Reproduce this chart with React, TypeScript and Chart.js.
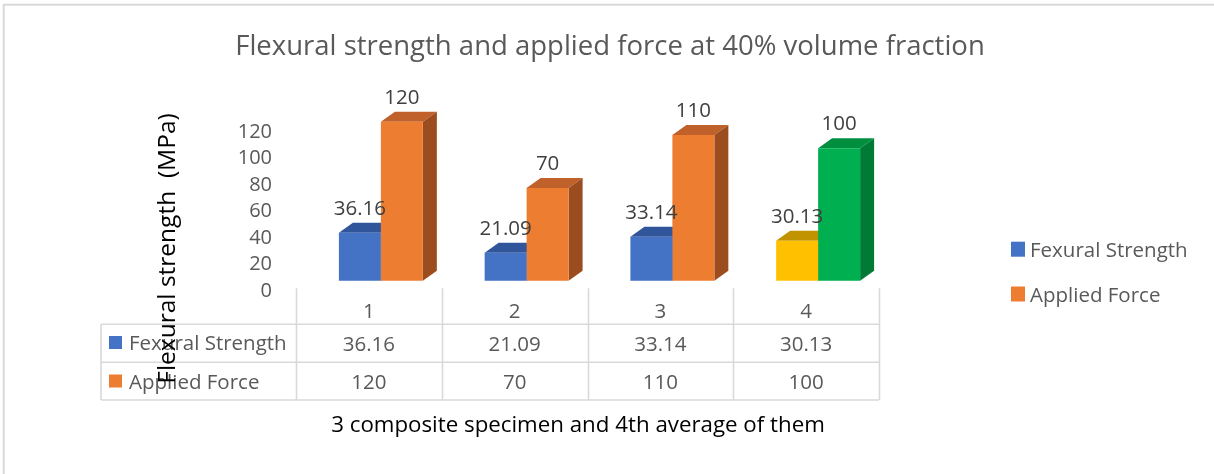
import React, { useEffect, useRef } from "react";
import { Chart, registerables } from "chart.js";

Chart.register(...registerables);

// ---------- data ----------
const categories = ["1", "2", "3", "4"];
const seriesNames = ["Fexural Strength", "Applied Force"];
const flexuralStrength = [36.16, 21.09, 33.14, 30.13];
const appliedForce = [120, 70, 110, 100];
const yMin = 0;
const yMax = 120;
const yStep = 20;

const chartTitle = "Flexural strength and applied force at 40% volume fraction";
const yAxisTitle = "Flexural strength  (MPa)";
const xAxisTitle = "3 composite specimen and 4th average of them";

// ---------- styles ----------
const FAMILY = '"Open Sans", sans-serif';
const font = (s: number) => `${s}px ${FAMILY}`;

const frontColors = [
  ["#4472C4", "#4472C4", "#4472C4", "#FFC000"],
  ["#ED7D31", "#ED7D31", "#ED7D31", "#00B050"],
];
const topColors = [
  ["#30559A", "#30559A", "#30559A", "#C29300"],
  ["#C0602A", "#C0602A", "#C0602A", "#008F3F"],
];
const sideColors = [
  ["#2A4B88", "#2A4B88", "#2A4B88", "#A77E00"],
  ["#9C4D1F", "#9C4D1F", "#9C4D1F", "#007A35"],
];
const legendColors = ["#4472C4", "#ED7D31"];

const DX = 14; // 3D depth x
const DY = 10; // 3D depth y
const SHIFT = 12; // bars are drawn slightly right of the category centre
const GRID = "#D9D9D9";

const excelPlugin = {
  id: "excel3d",
  beforeDraw(chart: any) {
    const ctx = chart.ctx as CanvasRenderingContext2D;
    ctx.save();
    ctx.fillStyle = "#FFFFFF";
    ctx.fillRect(0, 0, chart.width, chart.height);
    ctx.strokeStyle = GRID;
    ctx.lineWidth = 2;
    ctx.strokeRect(3.7, 4.7, chart.width + 20, chart.height + 20);
    // title
    ctx.fillStyle = "#595959";
    ctx.font = font(27.5);
    ctx.textAlign = "center";
    ctx.textBaseline = "alphabetic";
    ctx.fillText(chartTitle, 610, 55);
    ctx.restore();
  },
  beforeDatasetsDraw(chart: any) {
    const ctx = chart.ctx as CanvasRenderingContext2D;
    ctx.save();
    ctx.translate(SHIFT, 0);
    chart.data.datasets.forEach((_ds: any, di: number) => {
      const meta = chart.getDatasetMeta(di);
      meta.data.forEach((bar: any, i: number) => {
        const { x, y, base, width } = bar.getProps(["x", "y", "base", "width"], true);
        const l = x - width / 2;
        const r = x + width / 2;
        ctx.fillStyle = topColors[di][i];
        ctx.beginPath();
        ctx.moveTo(l, y);
        ctx.lineTo(l + DX, y - DY);
        ctx.lineTo(r + DX, y - DY);
        ctx.lineTo(r, y);
        ctx.closePath();
        ctx.fill();
        ctx.fillStyle = sideColors[di][i];
        ctx.beginPath();
        ctx.moveTo(r, y);
        ctx.lineTo(r + DX, y - DY);
        ctx.lineTo(r + DX, base - DY);
        ctx.lineTo(r, base);
        ctx.closePath();
        ctx.fill();
      });
    });
  },
  afterDatasetsDraw(chart: any) {
    const ctx = chart.ctx as CanvasRenderingContext2D;
    ctx.restore();
    ctx.save();
    const area = chart.chartArea;
    const xs = chart.scales.x;

    // data labels
    ctx.font = font(20.5);
    ctx.fillStyle = "#404040";
    ctx.textAlign = "center";
    ctx.textBaseline = "alphabetic";
    chart.data.datasets.forEach((ds: any, di: number) => {
      const meta = chart.getDatasetMeta(di);
      meta.data.forEach((bar: any, i: number) => {
        const { x, y } = bar.getProps(["x", "y"], true);
        ctx.fillText(String(ds.data[i]), x + SHIFT, y - 18);
      });
    });

    // data table
    const n = categories.length;
    const cw = (area.right - area.left) / n;
    const tableLeft = 101;
    const rowTop = area.bottom + 7.5;
    const r1 = 324.3;
    const r2 = 362.3;
    const r3 = 400;
    ctx.strokeStyle = GRID;
    ctx.lineWidth = 1.6;
    ctx.beginPath();
    for (let i = 0; i <= n; i++) {
      const lx = Math.round(area.left + i * cw) + 0.5;
      ctx.moveTo(lx, rowTop);
      ctx.lineTo(lx, r3);
    }
    ctx.moveTo(tableLeft, r1);
    ctx.lineTo(tableLeft, r3);
    [r1, r2, r3].forEach((ry) => {
      ctx.moveTo(tableLeft, ry);
      ctx.lineTo(area.right, ry);
    });
    ctx.stroke();

    ctx.fillStyle = "#595959";
    ctx.font = font(20.5);
    ctx.textAlign = "center";
    categories.forEach((c, i) => {
      const cx = xs.getPixelForValue(i);
      ctx.fillText(c, cx, 318);
      ctx.fillText(String(flexuralStrength[i]), cx, 351);
      ctx.fillText(String(appliedForce[i]), cx, 388.5);
    });
    // table row keys
    ctx.textAlign = "left";
    const rowBase = [350, 388.5];
    seriesNames.forEach((s, si) => {
      ctx.fillStyle = legendColors[si];
      ctx.fillRect(109, rowBase[si] - 14, 13, 13);
      ctx.fillStyle = "#595959";
      ctx.fillText(s, 129, rowBase[si]);
    });

    // legend on the right
    const legBase = [256.7, 301.5];
    seriesNames.forEach((s, si) => {
      ctx.fillStyle = legendColors[si];
      ctx.fillRect(1011, legBase[si] - 15, 14, 15);
      ctx.fillStyle = "#595959";
      ctx.fillText(s, 1030, legBase[si]);
    });

    // axis titles
    ctx.fillStyle = "#000000";
    ctx.font = font(22.3);
    ctx.textAlign = "center";
    ctx.fillText(xAxisTitle, 578, 431.5);

    ctx.save();
    ctx.translate(175, 248.5);
    ctx.rotate(-Math.PI / 2);
    ctx.font = font(24.5);
    ctx.fillText(yAxisTitle, 0, 0);
    ctx.restore();

    ctx.restore();
  },
};

export default function App() {
  const canvasRef = useRef<HTMLCanvasElement | null>(null);

  useEffect(() => {
    if (!canvasRef.current) return;
    const chart = new Chart(canvasRef.current, {
      type: "bar",
      data: {
        labels: categories,
        datasets: [
          {
            label: seriesNames[0],
            data: flexuralStrength,
            backgroundColor: frontColors[0],
            borderWidth: 0,
            clip: false as any,
          },
          {
            label: seriesNames[1],
            data: appliedForce,
            backgroundColor: frontColors[1],
            borderWidth: 0,
            clip: false as any,
          },
        ],
      },
      options: {
        responsive: false,
        maintainAspectRatio: false,
        animation: false,
        devicePixelRatio: 1,
        events: [],
        layout: { padding: { left: 0, right: 335, top: 121.7, bottom: 193.3 } },
        datasets: { bar: { categoryPercentage: 0.576, barPercentage: 1 } },
        plugins: {
          legend: { display: false },
          title: { display: false },
          tooltip: { enabled: false },
        },
        scales: {
          x: {
            display: false,
            grid: { display: false },
          },
          y: {
            min: yMin,
            max: yMax,
            grid: { display: false, drawTicks: false },
            border: { display: false },
            afterFit: (scale: any) => {
              scale.width = 296;
            },
            ticks: {
              stepSize: yStep,
              autoSkip: false,
              padding: 24,
              labelOffset: 10.5,
              color: "#595959",
              font: { family: FAMILY, size: 20 },
            },
          },
        },
      },
      plugins: [excelPlugin],
    });
    return () => chart.destroy();
  }, []);

  return (
    <div style={{ position: "fixed", left: 0, top: 0, width: 1214, height: 474, background: "#fff" }}>
      <canvas ref={canvasRef} width={1214} height={474} style={{ display: "block" }} />
    </div>
  );
}
